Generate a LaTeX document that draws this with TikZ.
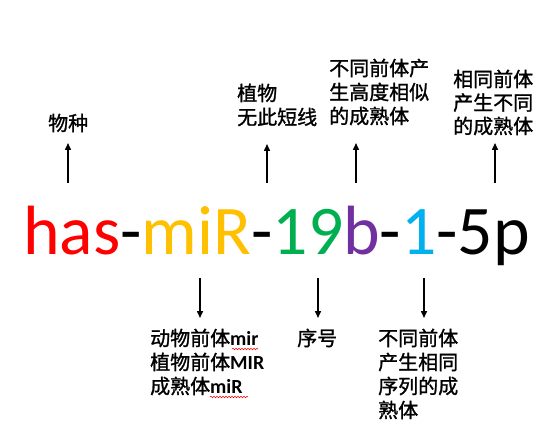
\documentclass[tikz,border=0pt]{standalone}
\usepackage{fontspec}
\setmainfont{Carlito}
\newfontfamily\cjk{Noto Sans CJK SC}[FakeBold=1.2]
\usetikzlibrary{arrows.meta,decorations.pathmorphing}
\definecolor{cred}{HTML}{FF0000}
\definecolor{corange}{HTML}{FFC000}
\definecolor{cgreen}{HTML}{00B050}
\definecolor{cpurple}{HTML}{7030A0}
\definecolor{cblue}{HTML}{00B0F0}
\tikzset{
  lab/.style={inner sep=0pt, anchor=base west, align=left, font=\cjk\fontsize{20}{24}\selectfont},
  arr/.style={line width=1.5pt, -{Triangle[length=7pt,width=6pt]}},
  squig/.style={cred, line width=0.5pt, decorate, decoration={snake, amplitude=0.8pt, segment length=3pt}},
}
\newcommand{\latb}[1]{{\rmfamily\bfseries #1}}
\begin{document}
\begin{tikzpicture}[x=1pt,y=-1pt]
\useasboundingbox[fill=white] (0,0) rectangle (554,430);
% main name
\node[inner sep=0pt, anchor=base west, font=\fontsize{69.7}{80}\selectfont] (name) at (23,255)
  {\textcolor{cred}{has}-\textcolor{corange}{miR}-\textcolor{cgreen}{19}\textcolor{cpurple}{b}-\textcolor{cblue}{1}-5p};
% upper labels (anchor = baseline of last line)
\node[lab] (t1) at (48,130.6) {物种};
\node[lab] (t2) at (237,124.6) {植物\\无此短线};
\node[lab] (t3) at (329,123.6) {不同前体产\\生高度相似\\的成熟体};
\node[lab, font=\cjk\fontsize{20}{23.5}\selectfont] (t4) at (453,133.6) {相同前体\\产生不同\\的成熟体};
% lower labels
\node[lab] (b1) at (150,393.6) {动物前体\latb{mir}\\植物前体\latb{MIR}\\成熟体\latb{miR}};
\node[lab] (b2) at (297,345.6) {序号};
\node[lab] (b3) at (378,417.6) {不同前体\\产生相同\\序列的成\\熟体};
% up arrows
\coordinate (u1s) at (68,183);  \coordinate (u1e) at (68,143);
\coordinate (u2s) at (267,183); \coordinate (u2e) at (267,144);
\coordinate (u3s) at (356,183); \coordinate (u3e) at (356,143);
\coordinate (u4s) at (495,183); \coordinate (u4e) at (495,143);
\draw[arr] (u1s) -- (u1e);
\draw[arr] (u2s) -- (u2e);
\draw[arr] (u3s) -- (u3e);
\draw[arr] (u4s) -- (u4e);
% down arrows
\coordinate (d1s) at (200,278); \coordinate (d1e) at (200,318);
\coordinate (d2s) at (318,278); \coordinate (d2e) at (318,318);
\coordinate (d3s) at (424,278); \coordinate (d3e) at (424,318);
\draw[arr] (d1s) -- (d1e);
\draw[arr] (d2s) -- (d2e);
\draw[arr] (d3s) -- (d3e);
% spell-check squiggles
\coordinate (q1s) at (232,349); \coordinate (q1e) at (258,349);
\coordinate (q2s) at (210,397); \coordinate (q2e) at (248,397);
\draw[squig] (q1s) -- (q1e);
\draw[squig] (q2s) -- (q2e);
\end{tikzpicture}
\end{document}
